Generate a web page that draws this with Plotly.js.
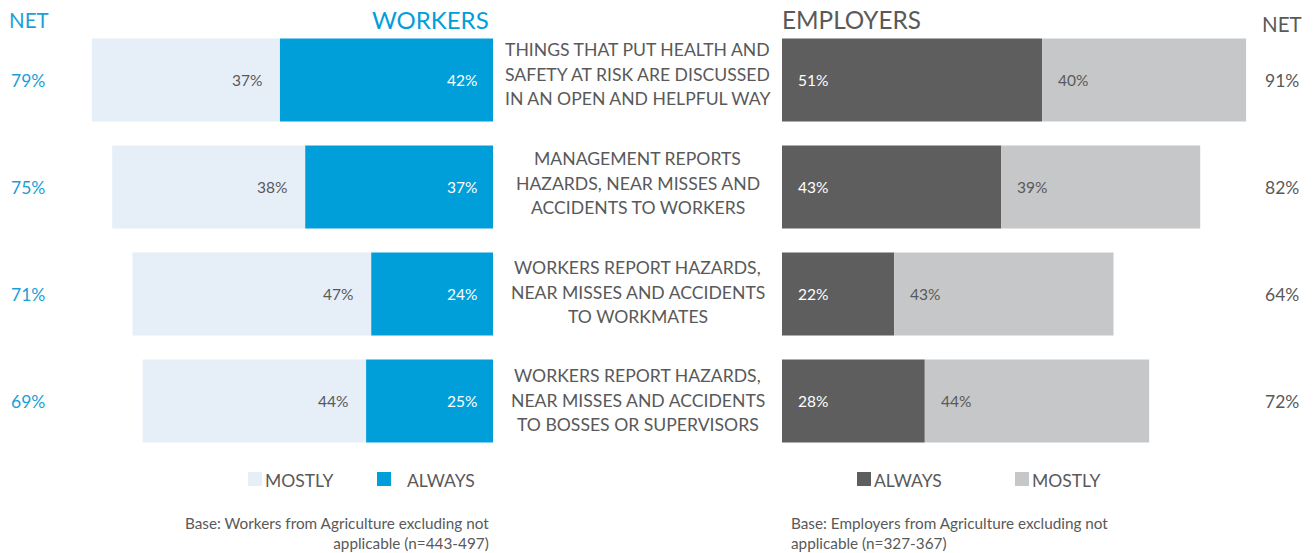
<!DOCTYPE html>
<html><head><meta charset="utf-8">
<script src="https://cdn.plot.ly/plotly-3.0.1.min.js"></script>
<style>html,body{margin:0;padding:0;background:#fff}#c{width:1315px;height:553px}</style>
</head><body><div id="c"></div>
<script>
const statements = [
  ["THINGS THAT PUT HEALTH AND", "SAFETY AT RISK ARE DISCUSSED", "IN AN OPEN AND HELPFUL WAY"],
  ["MANAGEMENT REPORTS", "HAZARDS, NEAR MISSES AND", "ACCIDENTS TO WORKERS"],
  ["WORKERS REPORT HAZARDS,", "NEAR MISSES AND ACCIDENTS", "TO WORKMATES"],
  ["WORKERS REPORT HAZARDS,", "NEAR MISSES AND ACCIDENTS", "TO BOSSES OR SUPERVISORS"]
];
const workersAlways = [42, 37, 24, 25];
const workersMostly = [37, 38, 47, 44];
const workersNet = [79, 75, 71, 69];
const employersAlways = [51, 43, 22, 28];
const employersMostly = [40, 39, 43, 44];
const employersNet = [91, 82, 64, 72];

const FONT = "Lato, 'Open Sans', sans-serif";
const GRAY = "#595959";
const BLUE = "#009fda";
const idx = statements.map((_, i) => i);

const W = 1315, H = 553;
const bw = 0.776;

function bar(x, base, color, xa) {
  return {
    type: "bar", orientation: "h", y: idx, x: x, base: base,
    xaxis: xa, yaxis: xa === "x" ? "y" : "y2",
    marker: {color: color, line: {width: 0}}, width: bw,
    hoverinfo: "skip", showlegend: false
  };
}

const zeros = idx.map(() => 0);
const traces = [
  bar(workersAlways, zeros, BLUE, "x"),
  bar(workersMostly, workersAlways, "#e6eef8", "x"),
  bar(employersAlways, zeros, "#5e5e5e", "x2"),
  bar(employersMostly, employersAlways, "#c6c7c8", "x2")
];

const yTop = 26.5, yBot = 454.5;
const ydom = [1 - yBot / H, 1 - yTop / H];
const pxPerUnit = (yBot - yTop) / 4;
const stmtShift = [6, 4, 2, 1];

const ann = [];
function barLabel(xref, yref, x, y, t, anchor, shift, color) {
  ann.push({xref: xref, yref: yref, x: x, y: y, text: t, showarrow: false,
    xanchor: anchor, yanchor: "middle", xshift: shift,
    font: {family: FONT, size: 15.5, color: color}});
}
idx.forEach(i => {
  barLabel("x", "y", 0, i, workersAlways[i] + "%", "right", -14, "#ffffff");
  barLabel("x", "y", workersAlways[i], i, workersMostly[i] + "%", "right", -16, GRAY);
  barLabel("x2", "y2", 0, i, employersAlways[i] + "%", "left", 14, "#ffffff");
  barLabel("x2", "y2", employersAlways[i], i, employersMostly[i] + "%", "left", 14, GRAY);
});

statements.forEach((lines, i) => {
  lines.forEach((ln, k) => {
    ann.push({xref: "paper", yref: "y", x: 637.5 / W, y: i + (k - 1) * 24.5 / pxPerUnit, text: ln, showarrow: false,
      xanchor: "center", yanchor: "middle", align: "center", yshift: stmtShift[i],
      font: {family: FONT, size: 17.6, color: GRAY}});
  });
  ann.push({xref: "paper", yref: "y", x: 9 / W, y: i, text: workersNet[i] + "%", showarrow: false,
    xanchor: "left", yanchor: "middle", font: {family: FONT, size: 17.5, color: "#1a9fd9"}});
  ann.push({xref: "paper", yref: "y", x: 1301 / W, y: i, text: employersNet[i] + "%", showarrow: false,
    xanchor: "right", yanchor: "middle", font: {family: FONT, size: 17.5, color: GRAY}});
});
function txt(x, y, t, anchor, size, color, align) {
  ann.push({xref: "paper", yref: "paper", x: x / W, y: 1 - y / H, text: t, showarrow: false,
    xanchor: anchor, yanchor: "middle", align: align || anchor,
    font: {family: FONT, size: size, color: color}});
}
txt(7, 20, "NET", "left", 20.5, "#1a9fd9");
txt(491, 19, "WORKERS", "right", 24, BLUE);
txt(780, 19, "EMPLOYERS", "left", 24.3, GRAY);
txt(1304, 24, "NET", "right", 20.5, GRAY);
txt(263, 480, "MOSTLY", "left", 17.5, GRAY);
txt(405, 480, "ALWAYS", "left", 17.5, GRAY);
txt(872, 480, "ALWAYS", "left", 17.5, GRAY);
txt(1030, 480, "MOSTLY", "left", 17.5, GRAY);
txt(491, 533, "Base: Workers from Agriculture excluding not<br>applicable (n=443-497)", "right", 15.3, GRAY, "right");
txt(789, 533, "Base: Employers from Agriculture excluding not<br>applicable (n=327-367)", "left", 15.3, GRAY, "left");

function sq(x, y, color) {
  return {type: "rect", xref: "paper", yref: "paper", x0: x / W, x1: (x + 14) / W,
    y0: 1 - (y + 14) / H, y1: 1 - y / H, fillcolor: color, line: {width: 0}};
}
const shapes = [sq(248, 472, "#e6eef8"), sq(377, 472, BLUE), sq(857, 472, "#5e5e5e"), sq(1015, 472, "#c6c7c8")];

const ax = {showgrid: false, zeroline: false, showticklabels: false, ticks: "", showline: false, fixedrange: true};
const layout = {
  width: W, height: H, margin: {l: 0, r: 0, t: 0, b: 0},
  paper_bgcolor: "#fff", plot_bgcolor: "rgba(0,0,0,0)",
  barmode: "overlay", showlegend: false,
  xaxis: Object.assign({}, ax, {domain: [36 / W, 493 / W], range: [90, 0]}),
  xaxis2: Object.assign({}, ax, {domain: [782 / W, 1292 / W], range: [0, 100]}),
  yaxis: Object.assign({}, ax, {domain: ydom, range: [3.5, -0.5], anchor: "x"}),
  yaxis2: Object.assign({}, ax, {domain: ydom, range: [3.5, -0.5], anchor: "x2"}),
  annotations: ann, shapes: shapes
};
Plotly.newPlot("c", traces, layout, {displayModeBar: false, staticPlot: true});
</script></body></html>
